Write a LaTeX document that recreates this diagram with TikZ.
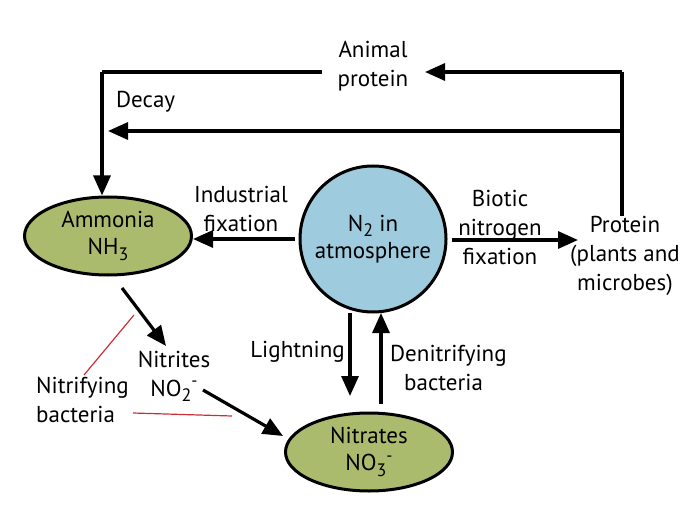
\documentclass[tikz,border=0pt]{standalone}
\usepackage{fontspec}
\setmainfont{PT Sans}
\usetikzlibrary{arrows.meta,shapes.geometric}
\definecolor{ngreen}{RGB}{170,187,110}
\definecolor{nblue}{RGB}{158,203,221}
\definecolor{nred}{RGB}{205,45,55}
\newcommand{\mysub}[1]{\raisebox{-0.45ex}{\fontsize{18}{18}\selectfont #1}}
\newcommand{\mysup}[1]{\raisebox{0.8ex}[1.2ex][0pt]{\fontsize{17}{17}\selectfont #1}}
\begin{document}
\begin{tikzpicture}[x=1pt,y=-1pt,
  txt/.style={font=\fontsize{23}{29}\selectfont,align=center,inner sep=0pt},
  flow/.style={line width=3.2pt,-{Triangle[length=20pt,width=17pt]}},
  plainline/.style={line width=3.2pt},
  redline/.style={draw=nred,line width=1.2pt},
  greenell/.style={ellipse,draw,line width=3pt,fill=ngreen,minimum width=167pt,minimum height=78pt,inner sep=0pt,align=center,font=\fontsize{23}{27}\selectfont},
  bluecirc/.style={circle,draw,line width=3pt,fill=nblue,minimum size=146pt,inner sep=0pt,align=center,font=\fontsize{23}{27}\selectfont}]
\useasboundingbox (0,0) rectangle (700,526);
\fill[white] (0,0) rectangle (700,526);
% main nodes
\node[greenell] (amm) at (108,236) {Ammonia\\NH\mysub{3}};
\node[bluecirc] (n2) at (373,239) {N\mysub{2} in\\atmosphere};
\node[greenell] (nitr) at (369,452) {Nitrates\\NO\mysub{3}\mysup{-}};
% labels
\node[txt] (animal) at (373,66) {Animal\\protein};
\node[txt,anchor=west] (decay) at (116,102) {Decay};
\node[txt] (ind) at (241,209) {Industrial\\fixation};
\node[txt] (bio) at (500,227) {Biotic\\nitrogen\\fixation};
\node[txt] (prot) at (625,256) {Protein\\(plants and\\microbes)};
\node[txt,anchor=east] (light) at (345,352) {Lightning};
\node[txt,anchor=west,align=left] (denit) at (390,368) {Denitrifying\\\hspace*{14pt}bacteria};
\node[txt] (nitrites) at (174,376) {Nitrites\\NO\mysub{2}\mysup{-}};
\node[txt,anchor=west,align=left] (nbac) at (36,400) {Nitrifying\\bacteria};
% coordinates
\coordinate (rtop) at (622,72);
\coordinate (rdec) at (622,131);
\coordinate (ltop) at (102,72);
\coordinate (decend) at (108,131);
\coordinate (anmend) at (425,72);
\coordinate (anmstart) at (322,72);
% top loop
\draw[plainline] (prot.north -| rtop) -- (rtop);
\draw[flow] (rtop) -- (anmend);
\draw[plainline] (anmstart) -- (ltop);
\draw[flow] (ltop) -- (amm.north -| ltop);
\draw[flow] (rdec) -- (decend);
% horizontal fixation arrows
\draw[flow] (n2.west) ++(-4,0) -- (amm.east |- n2.west);
\coordinate (bstart) at (452,240);
\coordinate (bend) at (578,240);
\draw[flow] (bstart) -- (bend);
% vertical arrows
\coordinate (ls) at (350,313);
\coordinate (le) at (350,396);
\draw[flow] (ls) -- (le);
\coordinate (ds) at (381,404);
\coordinate (de) at (381,313);
\draw[flow] (ds) -- (de);
% nitrification
\coordinate (a1) at (122,288);
\coordinate (a2) at (166,346);
\draw[flow] (a1) -- (a2);
\coordinate (b1) at (203,390);
\coordinate (b2) at (283,436);
\draw[flow] (b1) -- (b2);
% red lines
\coordinate (r1) at (84,375);
\coordinate (r2) at (134,315);
\coordinate (r3) at (133,413);
\coordinate (r4) at (232,416);
\draw[redline] (r1) -- (r2);
\draw[redline] (r3) -- (r4);
\end{tikzpicture}
\end{document}
